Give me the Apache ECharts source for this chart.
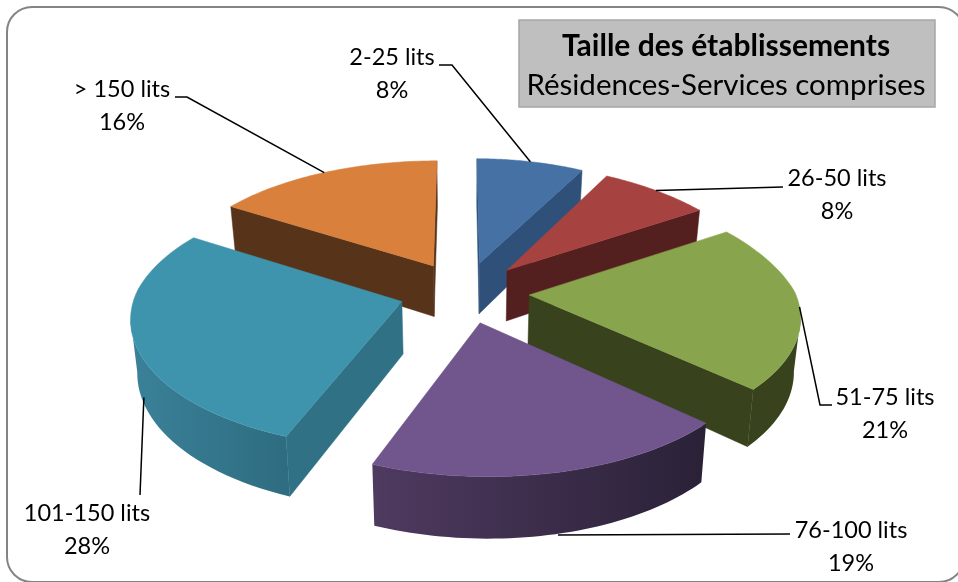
<!DOCTYPE html>
<html><head><meta charset="utf-8">
<style>html,body{margin:0;padding:0;background:#fff}#c{width:958px;height:582px}</style>
<script src="https://cdn.jsdelivr.net/npm/echarts@6/dist/echarts.min.js"></script>
</head><body><div id="c"></div>
<script>
const categories = ['2-25 lits','26-50 lits','51-75 lits','76-100 lits','101-150 lits','> 150 lits'];
const shares = [8,8,21,19,28,16];

const topColors = ['#4571a5','#a64340','#88a44d','#70568c','#3f94ad','#d8803c'];
const sideColors = ['#2f5078','#541f1f','#38421c','#2c2239','#307186','#57331a'];
const wallLeft = ['#2f5078','#541f1f','#38421c','#4f3a60','#3a8199','#57331a'];
const wallRight = ['#2f5078','#541f1f','#38421c','#2a2137','#2e6c80','#57331a'];
const paintOrder = [1,2,3,5,4,0];
// layout of callouts: label centre, leader bend / end, wall height and angle shift of leader start
const labelPos = [[392,74],[837,195],[885,414],[851,547],[87,530],[122,106]];
const leaderPath = [[[452,65],[439,65]],[[783,187]],[[820,405],[832,405]],[[790,534]],[[140,495]],[[187,97],[175,97]]];
const leaderH = [0,0,0,1.02,.85,0];
const leaderShift = [0,0,0,-0.5,-3.5,0];

const V = {cx:464, cy:292, R:266, k:0.47, q:0.13, qBackRight:0.2, frontSkew:6, T:52, ex:0.245, shrink:0.02};
const total = shares.reduce((a,b)=>a+b,0);
const cumulative = []; shares.reduce((acc,v,i)=>{cumulative[i]=acc; return acc+v;},0);

function project(a,b,h){
  const s = 1/(1+V.q*b);
  const sx = (a>0 && b>0) ? 1/(1+V.qBackRight*b) : s;
  return [V.cx + V.R*a*sx*(1-V.shrink*h) + V.frontSkew*Math.max(0,-b), V.cy - V.R*V.k*b*s + V.T*h*s];
}
function renderSlice(params, api){
  const i = params.dataIndex, v = api.value(0);
  const t0 = cumulative[i]/total*2*Math.PI, t1 = (cumulative[i]+v)/total*2*Math.PI, tm=(t0+t1)/2;
  const ox = V.ex*Math.sin(tm), oy = V.ex*Math.cos(tm);
  const rim = (t,h)=>project(ox+Math.sin(t),oy+Math.cos(t),h);
  const apex = h=>project(ox,oy,h);
  const N = 48, angles=[]; for(let n=0;n<=N;n++) angles.push(t0+(t1-t0)*n/N);
  const z = paintOrder[i]*10, children=[];
  const poly=(pts,fill,zz)=>children.push({type:'polygon',shape:{points:pts},z2:z+zz,
     style:{fill:fill,stroke:typeof fill==='string'?fill:null,lineWidth:0.5}});
  // hidden faces culled: an edge of the clockwise top outline shows its wall when it runs right-to-left
  const A0=apex(0),A1=apex(1),S0=rim(t0,0),S1=rim(t0,1),E0=rim(t1,0),E1=rim(t1,1);
  if(S0[0]<A0[0]) poly([A0,S0,S1,A1],sideColors[i],1);
  if(A0[0]<E0[0]) poly([E0,A0,A1,E1],sideColors[i],1);
  let vis=[];
  for(let n=0;n<N;n++){ if(rim(angles[n+1],0)[0]<rim(angles[n],0)[0]){ if(!vis.length)vis.push(angles[n]); vis.push(angles[n+1]); } }
  if(vis.length>1){
    const top=vis.map(t=>rim(t,0)), bot=vis.map(t=>rim(t,1)).reverse();
    poly(top.concat(bot),new echarts.graphic.LinearGradient(0,0,1,0,[{offset:0,color:wallLeft[i]},{offset:1,color:wallRight[i]}]),2);
  }
  poly([A0].concat(angles.map(t=>rim(t,0))),topColors[i],3);
  // leader and label
  const start = rim(tm+leaderShift[i]*Math.PI/180,leaderH[i]);
  children.push({type:'polyline',shape:{points:[start].concat(leaderPath[i])},z2:900,style:{fill:null,stroke:'#000',lineWidth:1.5}});
  children.push({type:'text',z2:901,style:{x:labelPos[i][0],y:labelPos[i][1],text:categories[i]+'\n'+Math.round(v)+'%',
     align:'center',verticalAlign:'middle',font:'23.5px Lato, Carlito, sans-serif',lineHeight:33,fill:'#000'}});
  return {type:'group',children};
}
const chart = echarts.init(document.getElementById('c'),null,{renderer:'canvas'});
chart.setOption({
  animation:false,
  backgroundColor:'#fff',
  graphic:[
    {type:'rect',z:-2,shape:{x:7,y:7,width:957,height:575,r:25},style:{fill:'#fff',stroke:'#848484',lineWidth:2}},
    {type:'rect',z:-1,shape:{x:519,y:20,width:416,height:87},style:{fill:'#bfbfbf',stroke:'#a6a6a6',lineWidth:1.5}}
  ],
  title:{text:'Taille des établissements',subtext:'Résidences-Services comprises',left:726,top:28,textAlign:'center',itemGap:3,padding:0,
    textStyle:{fontFamily:'Lato',fontSize:30,fontWeight:'bold',color:'#000',lineHeight:36},
    subtextStyle:{fontFamily:'Lato',fontSize:29.5,color:'#000',lineHeight:36}},
  series:[{type:'custom',coordinateSystem:'none',renderItem:renderSlice,clip:false,
    data:categories.map((c,i)=>({name:c,value:shares[i]}))}]
});
</script></body></html>
